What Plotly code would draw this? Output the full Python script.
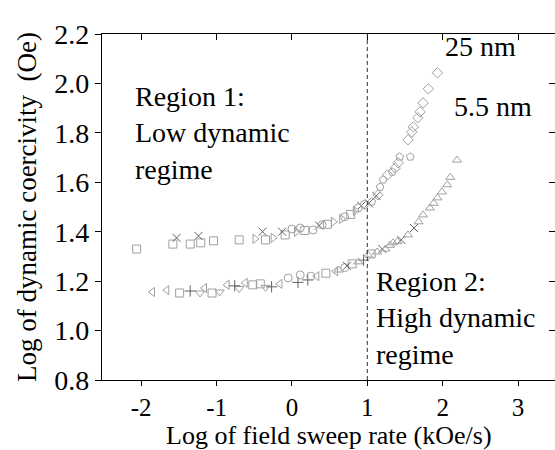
import plotly.graph_objects as go

# ---------------- data ----------------
# 25 nm sample (upper curve)
sq25_x = [-2.06, -1.58, -1.35, -1.21, -1.04, -0.70, -0.35, -0.09, 0.17, 0.47, 0.78]
sq25_y = [1.33, 1.35, 1.35, 1.355, 1.363, 1.367, 1.367, 1.387, 1.405, 1.43, 1.47]
x25_x = [-1.53, -1.24, -0.39, -0.13, 0.36, 0.92, 1.02, 1.12]
x25_y = [1.375, 1.383, 1.40, 1.40, 1.425, 1.505, 1.515, 1.545]
tr25_x = [-0.49, -0.25, 0.06, 0.55, 0.66, 0.84]
tr25_y = [1.371, 1.375, 1.40, 1.44, 1.452, 1.485]
ci25_x = [0.0, 0.11, 0.28, 0.40, 0.70, 0.88, 0.96]
ci25_y = [1.411, 1.415, 1.407, 1.428, 1.46, 1.496, 1.51]
pe25_x = [1.06, 1.17, 1.21, 1.33, 1.43, 1.57]
pe25_y = [1.521, 1.581, 1.61, 1.642, 1.703, 1.703]
di25_x = [1.14, 1.27, 1.37, 1.41, 1.54, 1.59, 1.61, 1.67, 1.70, 1.74, 1.81, 1.93]
di25_y = [1.549, 1.63, 1.658, 1.679, 1.772, 1.804, 1.824, 1.861, 1.885, 1.921, 1.978, 2.043]

# 5.5 nm sample (lower curve)
lt55_x = [-1.85, -1.66, -1.16, -0.86, -0.62, -0.16, 0.33, 0.58]
lt55_y = [1.156, 1.164, 1.172, 1.185, 1.193, 1.189, 1.22, 1.24]
sq55_x = [-1.49, -1.06, -0.52, -0.42, 0.45, 0.80, 1.05]
sq55_y = [1.152, 1.152, 1.185, 1.189, 1.232, 1.27, 1.31]
td55_x = [-1.22, -0.96, -0.70, -0.35]
td55_y = [1.152, 1.156, 1.17, 1.175]
pl55_x = [-1.35, -0.76, -0.27, 0.21, 0.08, 0.95]
pl55_y = [1.160, 1.181, 1.177, 1.205, 1.195, 1.285]
ci55_x = [-0.05, 0.11, 0.25, 0.70]
ci55_y = [1.213, 1.225, 1.22, 1.255]
x55_x = [0.73, 1.20, 1.45, 1.62]
x55_y = [1.262, 1.33, 1.367, 1.415]
tu55_x = [0.62, 0.88, 1.01, 1.13, 1.24, 1.30, 1.34, 1.40, 1.54, 1.68, 1.74,
          1.83, 1.88, 1.93, 1.99, 2.06, 2.10, 2.19]
tu55_y = [1.245, 1.278, 1.306, 1.318, 1.330, 1.345, 1.355, 1.36, 1.387, 1.44,
          1.468, 1.496, 1.515, 1.537, 1.561, 1.59, 1.62, 1.69]

x_ticks = [-2, -1, 0, 1, 2, 3]
x_tick_labels = ["-2", "-1", "0", "1", "2", "3"]
y_ticks = [0.8, 1.0, 1.2, 1.4, 1.6, 1.8, 2.0, 2.2]
y_tick_labels = ["0.8", "1.0", "1.2", "1.4", "1.6", "1.8", "2.0", "2.2"]
x_range = [-2.52, 3.49]
y_range = [0.8, 2.2]
boundary_x = 1

FONT = "Liberation Serif, Times New Roman, serif"
LIGHT = "#a0a0a0"
DARK = "#606060"

fig = go.Figure()

series = [
    (sq25_x, sq25_y, "square-open", LIGHT),
    (x25_x, x25_y, "x-thin-open", DARK),
    (tr25_x, tr25_y, "triangle-right-open", LIGHT),
    (ci25_x, ci25_y, "circle-open", LIGHT),
    (pe25_x, pe25_y, "pentagon-open", LIGHT),
    (di25_x, di25_y, "diamond-open", LIGHT),
    (lt55_x, lt55_y, "triangle-left-open", LIGHT),
    (sq55_x, sq55_y, "square-open", LIGHT),
    (td55_x, td55_y, "triangle-down-open", LIGHT),
    (pl55_x, pl55_y, "cross-thin-open", DARK),
    (ci55_x, ci55_y, "circle-open", LIGHT),
    (x55_x, x55_y, "x-thin-open", DARK),
    (tu55_x, tu55_y, "triangle-up-open", LIGHT),
]
for xs, ys, sym, col in series:
    fig.add_trace(go.Scatter(
        x=xs, y=ys, mode="markers", showlegend=False,
        marker=dict(symbol=sym, size=8, color=col, line=dict(width=1, color=col)),
    ))

# dummy trace for mirrored axes
fig.add_trace(go.Scatter(x=[None], y=[None], xaxis="x2", yaxis="y2",
                         showlegend=False, mode="markers"))

# dashed boundary line
fig.add_shape(type="line", x0=boundary_x, x1=boundary_x, y0=y_range[0], y1=y_range[1],
              xref="x", yref="y", line=dict(color="#333333", width=1, dash="4px,3px"))

ann_font = dict(family=FONT, size=28, color="black")
fig.add_annotation(x=-2.11, y=1.80, xref="x", yref="y", xanchor="left", yanchor="middle",
                   align="left", showarrow=False, font=ann_font,
                   text="Region 1:<br>Low dynamic<br>regime")
fig.add_annotation(x=1.09, y=1.05, xref="x", yref="y", xanchor="left", yanchor="middle",
                   align="left", showarrow=False, font=ann_font,
                   text="Region 2:<br>High dynamic<br>regime")
fig.add_annotation(x=2.0, y=2.148, xref="x", yref="y", xanchor="left", yanchor="middle",
                   showarrow=False, font=ann_font, text="25 nm")
fig.add_annotation(x=2.13, y=1.905, xref="x", yref="y", xanchor="left", yanchor="middle",
                   showarrow=False, font=ann_font, text="5.5 nm")

# x-axis title as annotation (placed like the reference)
fig.add_annotation(x=0.5, y=-0.161, xref="paper", yref="paper", xanchor="center",
                   yanchor="middle", showarrow=False,
                   font=dict(family=FONT, size=26, color="black"),
                   text="Log of field sweep rate (kOe/s)")

tick_font = dict(family=FONT, size=28, color="black")
fig.update_layout(
    width=555, height=450,
    margin=dict(l=102, r=0, t=34, b=70),
    paper_bgcolor="white", plot_bgcolor="white",
    font=dict(family=FONT, color="black"),
    xaxis=dict(range=x_range, tickvals=x_ticks, ticktext=x_tick_labels, ticks="outside",
               ticklen=5, tickwidth=1, tickcolor="black", showline=True,
               linecolor="black", linewidth=1.3, showgrid=False, zeroline=False,
               tickfont=dict(family=FONT, size=25, color="black"), ticklabelstandoff=0),
    yaxis=dict(range=y_range, tickvals=y_ticks, ticktext=y_tick_labels, ticks="outside",
               ticklen=6, tickwidth=1, tickcolor="black", showline=True,
               linecolor="black", linewidth=1.3, showgrid=False, zeroline=False,
               tickfont=tick_font,
               title=dict(text="Log of dynamic coercivity  (Oe)",
                          font=dict(family=FONT, size=27), standoff=9)),
    xaxis2=dict(range=x_range, tickvals=x_ticks, overlaying="x", side="top", anchor="y2",
                ticks="inside", ticklen=6, tickcolor="black", showline=True,
                linecolor="black", linewidth=1.3, showticklabels=False,
                showgrid=False, zeroline=False),
    yaxis2=dict(range=y_range, tickvals=y_ticks, overlaying="y", side="right", anchor="x2",
                ticks="inside", ticklen=6, tickcolor="black", showline=False,
                showticklabels=False, showgrid=False, zeroline=False),
)

fig.write_html("out.html")
